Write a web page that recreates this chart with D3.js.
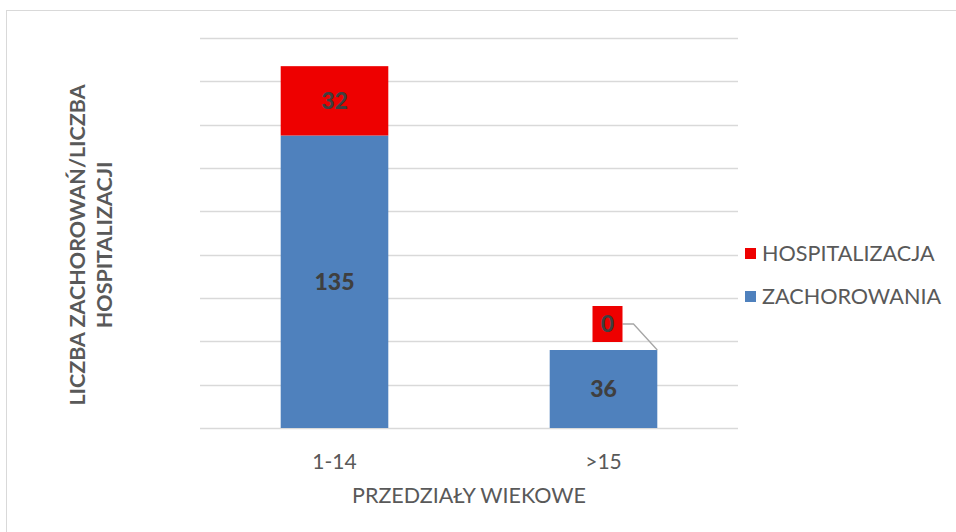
<!DOCTYPE html>
<html><head><meta charset="utf-8">
<script src="https://cdn.jsdelivr.net/npm/d3@7"></script>
<style>body{margin:0;background:#fff}svg{display:block}text{font-family:Lato,"Open Sans",sans-serif}</style>
</head><body><svg id="c" width="956" height="532"></svg>
<script>
const categories = ["1-14", ">15"];
const zachorowania = [135, 36];
const hospitalizacja = [32, 0];
const yTicks = [0,20,40,60,80,100,120,140,160,180];
const seriesNames = ["HOSPITALIZACJA", "ZACHOROWANIA"];
const colors = {"HOSPITALIZACJA":"#ee0000","ZACHOROWANIA":"#4f81bd"};

const svg = d3.select("#c");
svg.append("rect").attr("x",6.5).attr("y",10.5).attr("width",960).attr("height",530)
  .attr("fill","#fff").attr("stroke","#d9d9d9").attr("stroke-width",1);

const x = d3.scaleBand().domain(categories).range([200,738]).padding(0);
const y = d3.scaleLinear().domain([0,180]).range([428,38]);
const bw = x.bandwidth()*0.4;

svg.append("g").selectAll("line").data(yTicks).join("line")
  .attr("x1",200).attr("x2",738).attr("y1",d=>Math.round(y(d))+0.5).attr("y2",d=>Math.round(y(d))+0.5)
  .attr("stroke","#d9d9d9").attr("stroke-width",1.5);

const cx = c => x(c)+x.bandwidth()/2;

svg.append("g").selectAll("rect").data(categories).join("rect")
  .attr("x",c=>cx(c)-bw/2).attr("width",bw)
  .attr("y",(c,i)=>y(zachorowania[i])).attr("height",(c,i)=>y(0)-y(zachorowania[i]))
  .attr("fill",colors.ZACHOROWANIA);
svg.append("g").selectAll("rect").data(categories).join("rect")
  .attr("x",c=>cx(c)-bw/2).attr("width",bw)
  .attr("y",(c,i)=>y(zachorowania[i]+hospitalizacja[i])).attr("height",(c,i)=>y(zachorowania[i])-y(zachorowania[i]+hospitalizacja[i]))
  .attr("fill",colors.HOSPITALIZACJA);

const lab = {fill:"#3f3f3f","font-weight":"900","font-size":"23px","text-anchor":"middle"};
function addText(t,xx,yy,st){const e=svg.append("text").attr("x",xx).attr("y",yy).text(t);for(const k in st)e.attr(k,st[k]);return e;}

categories.forEach((c,i)=>{
  addText(zachorowania[i],cx(c),(y(0)+y(zachorowania[i]))/2+8,lab);
  if(hospitalizacja[i]>0){
    addText(hospitalizacja[i],cx(c),(y(zachorowania[i])+y(zachorowania[i]+hospitalizacja[i]))/2+8,lab);
  } else {
    const top = y(zachorowania[i]);
    const bx = cx(c)-11, by = top-44, w = 30, h = 36;
    svg.append("polyline").attr("points",`${bx+w},${by+h/2} ${bx+w+11},${by+h/2} ${cx(c)+bw/2},${top}`)
      .attr("fill","none").attr("stroke","#a6a6a6").attr("stroke-width",1.3);
    svg.append("rect").attr("x",bx).attr("y",by).attr("width",w).attr("height",h).attr("fill",colors.HOSPITALIZACJA);
    addText(hospitalizacja[i],bx+w/2,by+h/2+8,lab);
  }
  addText(c,cx(c),469,{fill:"#595959","font-size":"21px","text-anchor":"middle"});
});

addText("PRZEDZIAŁY WIEKOWE",469,503,{fill:"#595959","font-size":"21.5px","text-anchor":"middle"});

const yt = svg.append("text").attr("transform","translate(85,245) rotate(-90)")
  .attr("fill","#595959").attr("font-size","21.5px").attr("font-weight","bold").attr("text-anchor","middle");
yt.append("tspan").attr("x",0).attr("dy",0).text("LICZBA ZACHOROWAŃ/LICZBA");
yt.append("tspan").attr("x",0).attr("dy",27).text("HOSPITALIZACJI");

seriesNames.forEach((s,i)=>{
  const yy = 253 + i*43;
  svg.append("rect").attr("x",745).attr("y",yy-5).attr("width",11).attr("height",11).attr("fill",colors[s]);
  addText(s,762,yy+7.5,{fill:"#595959","font-size":"21.6px"});
});
</script></body></html>
